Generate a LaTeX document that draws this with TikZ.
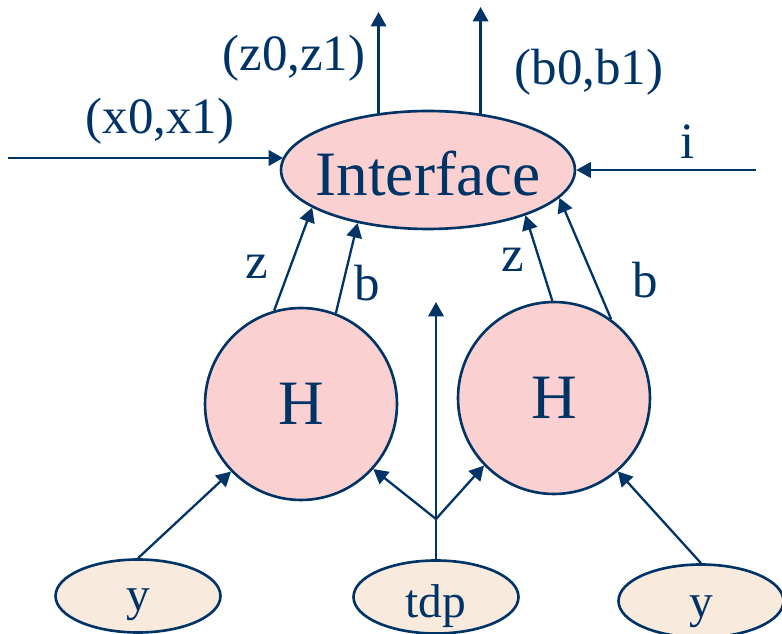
\documentclass[tikz,border=0pt]{standalone}
\usepackage{fontspec}
\setmainfont{Liberation Serif}
\usepackage{tikz}
\usetikzlibrary{arrows.meta,shapes.geometric}
\definecolor{navy}{RGB}{0,51,102}
\definecolor{hpink}{RGB}{250,208,208}
\definecolor{leafbeige}{RGB}{248,235,222}

\begin{document}
\begin{tikzpicture}[x=0.02cm,y=-0.02cm, color=navy, line width=1.3pt,
 every node/.style={align=center},
 hub/.style={ellipse,draw,line width=1.5pt,fill=hpink,inner sep=0pt,inner xsep=-8pt,text height=29pt,text depth=0pt,minimum width=5.88cm,minimum height=2.36cm,font=\fontsize{36}{40}\selectfont},
 hnode/.style={circle,draw,line width=1.5pt,fill=hpink,inner sep=0pt,minimum size=3.84cm,font=\fontsize{36}{40}\selectfont},
 leaf/.style={ellipse,draw,line width=1.5pt,fill=leafbeige,inner sep=0pt,text height=17pt,text depth=0pt,minimum width=3.3cm,minimum height=1.46cm,font=\fontsize{27}{30}\selectfont},
 lab/.style={inner sep=0pt,font=\fontsize{29}{32}\selectfont},
 arr/.style={-{Triangle[length=2.9mm,width=3.1mm]}}]
\useasboundingbox (0,0) rectangle (782,634);
\node[hub] (iface) at (428,170) {Interface};
\node[hnode] (hl) at (301,404) {H};
\node[hnode] (hr) at (554,398) {H};
\node[leaf] (yl) at (138,596) {y};
\node[leaf,text height=23pt] (tdp) at (436,597) {tdp};
\node[leaf,text height=18.5pt] (yr) at (701,601) {y};
\coordinate (inX) at (8,158); \coordinate (inI) at (756,170);
\coordinate (outZ) at (380,12); \coordinate (outB) at (480,7);
\coordinate (fork) at (436,519); \coordinate (tdpUp) at (436,302);
\node[lab] (lx) at (160,121) {(x0,x1)};
\node[lab] (lz) at (294,58) {(z0,z1)};
\node[lab] (lb) at (589,72) {(b0,b1)};
\node[lab] (li) at (688,142) {i};
\node[lab] (zl) at (257,267) {z};
\node[lab] (bl) at (367,283) {b};
\node[lab] (zr) at (513,260) {z};
\node[lab] (br) at (645,280) {b};
\draw[arr] (inX) -- (inX -| iface.175); \draw[arr] (inI) -- (iface.east);
\draw[arr] (iface.131) -- (iface.131 |- outZ); \draw[arr] (iface.47) -- (iface.47 |- outB);
\draw[arr] (hl.106) -- (iface.198); \draw[arr] (hl.69) -- (iface.217);
\draw[arr] (hr.91) -- (iface.-25); \draw[arr] (hr.54) -- (iface.-12);
\draw[arr] (yl.north) -- (hl.224); \draw[arr] (yr.north) -- (hr.-49);
\draw[arr] (tdp.north) -- (tdpUp);
\draw[arr] (fork) -- (hl.-42); \draw[arr] (fork) -- (hr.224);
\end{tikzpicture}
\end{document}
